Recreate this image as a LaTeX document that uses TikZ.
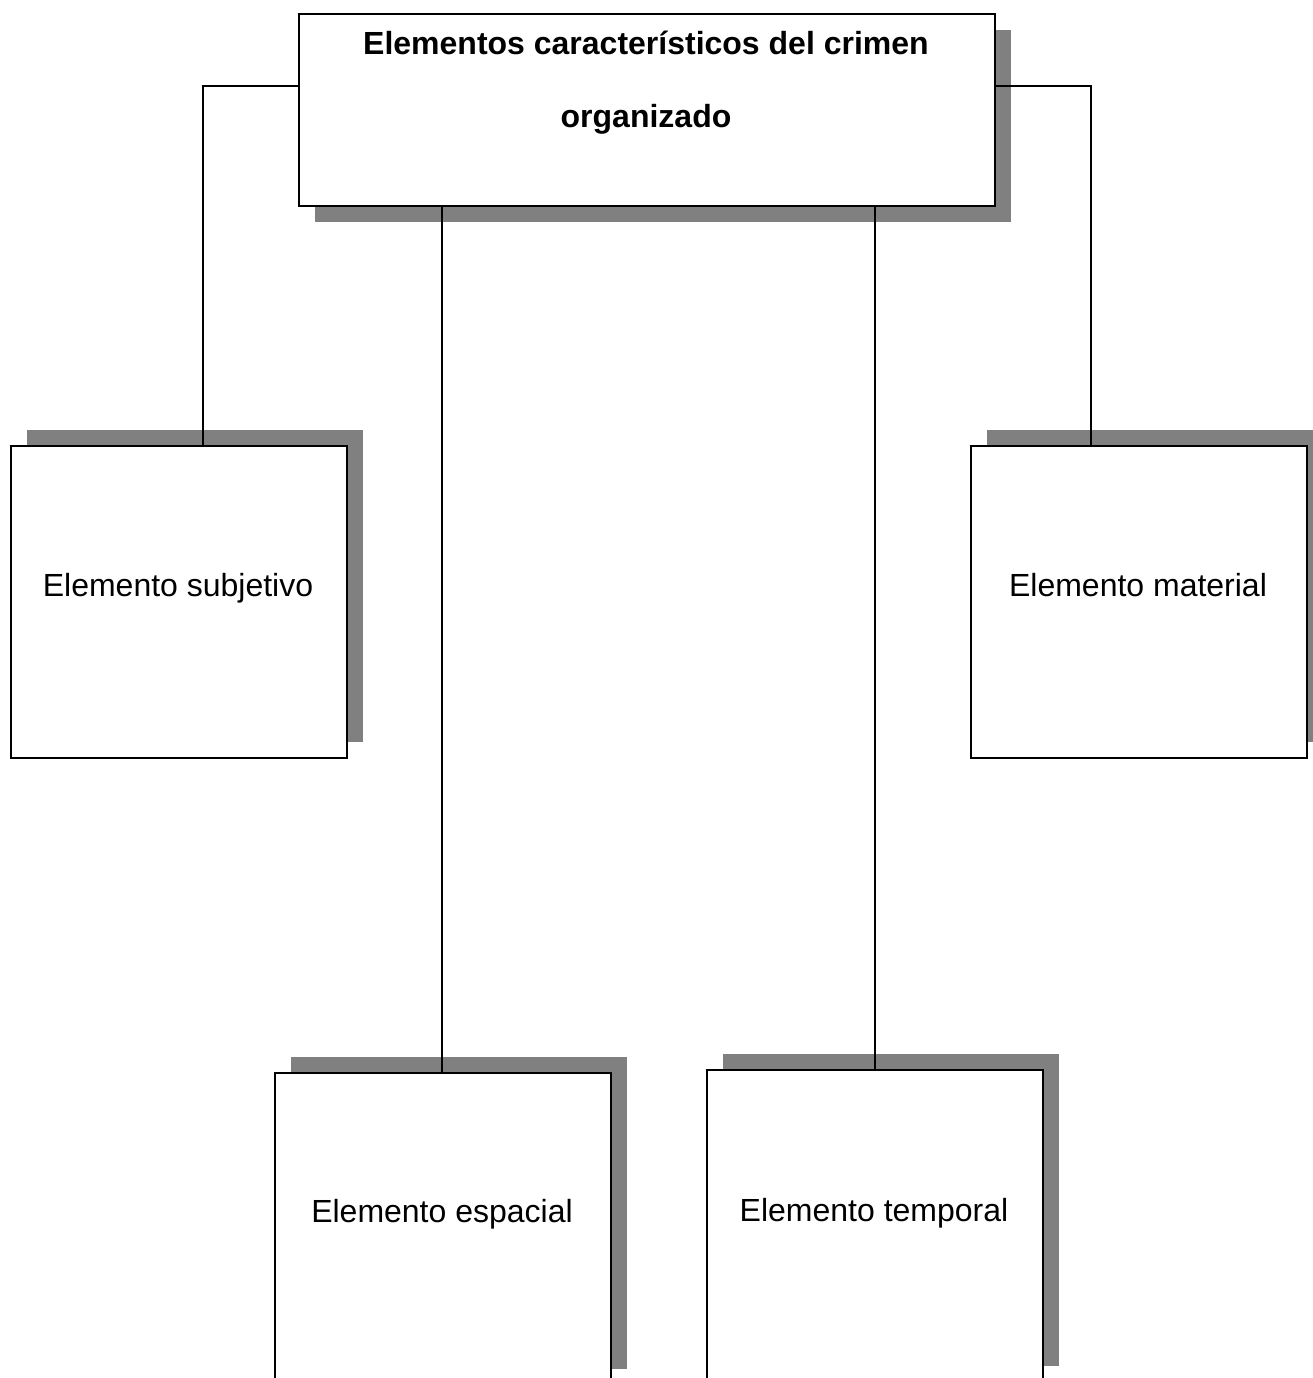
\documentclass[tikz,border=0pt]{standalone}
\usepackage{fontspec}
\setmainfont{Liberation Sans}
\usetikzlibrary{shadows}
\definecolor{shadowgray}{RGB}{128,128,128}
\begin{document}
\begin{tikzpicture}[x=1pt,y=-1pt,
  box/.style={draw=black, line width=1.6pt, fill=white, rectangle, inner sep=0pt, anchor=north west},
  downshadow/.style={general shadow={fill=shadowgray, draw=none, shadow xshift=16pt, shadow yshift=-16pt}},
  upshadow/.style={general shadow={fill=shadowgray, draw=none, shadow xshift=16pt, shadow yshift=16pt}},
  lbl/.style={anchor=base, inner sep=0pt, font=\fontsize{32pt}{38pt}\selectfont},
  tlbl/.style={anchor=base, inner sep=0pt, font=\fontsize{32pt}{38pt}\selectfont\bfseries},
  conn/.style={draw=black, line width=1.6pt}]
\useasboundingbox (0,0) rectangle (1313,1378);
\clip (0,0) rectangle (1313,1378);
% boxes
\node[box, downshadow, minimum width=696pt, minimum height=192pt] (top) at (298,13) {};
\node[box, upshadow, minimum width=336pt, minimum height=312pt] (subj) at (10,445) {};
\node[box, upshadow, minimum width=336pt, minimum height=312pt] (mat) at (970,445) {};
\node[box, upshadow, minimum width=336pt, minimum height=312pt] (esp) at (274,1072) {};
\node[box, upshadow, minimum width=336pt, minimum height=312pt] (tem) at (706,1069) {};
% texts
\node[tlbl] (t1) at (646,55) {Elementos característicos del crimen};
\node[tlbl] (t2) at (646,128) {organizado};
\node[lbl] (l1) at (178,596) {Elemento subjetivo};
\node[lbl] (l2) at (1138,596) {Elemento material};
\node[lbl] (l3) at (442,1222) {Elemento espacial};
\node[lbl] (l4) at (874,1221) {Elemento temporal};
% connectors
\draw[conn] (top.north west |- 0,86) -| ([xshift=24pt]subj.north);
\draw[conn] (top.north east |- 0,86) -| ([xshift=-48pt]mat.north);
\draw[conn] ([xshift=-1pt]esp.north |- top.south) -- ([xshift=-1pt]esp.north);
\draw[conn] (tem.north |- top.south) -- (tem.north);
\end{tikzpicture}
\end{document}
